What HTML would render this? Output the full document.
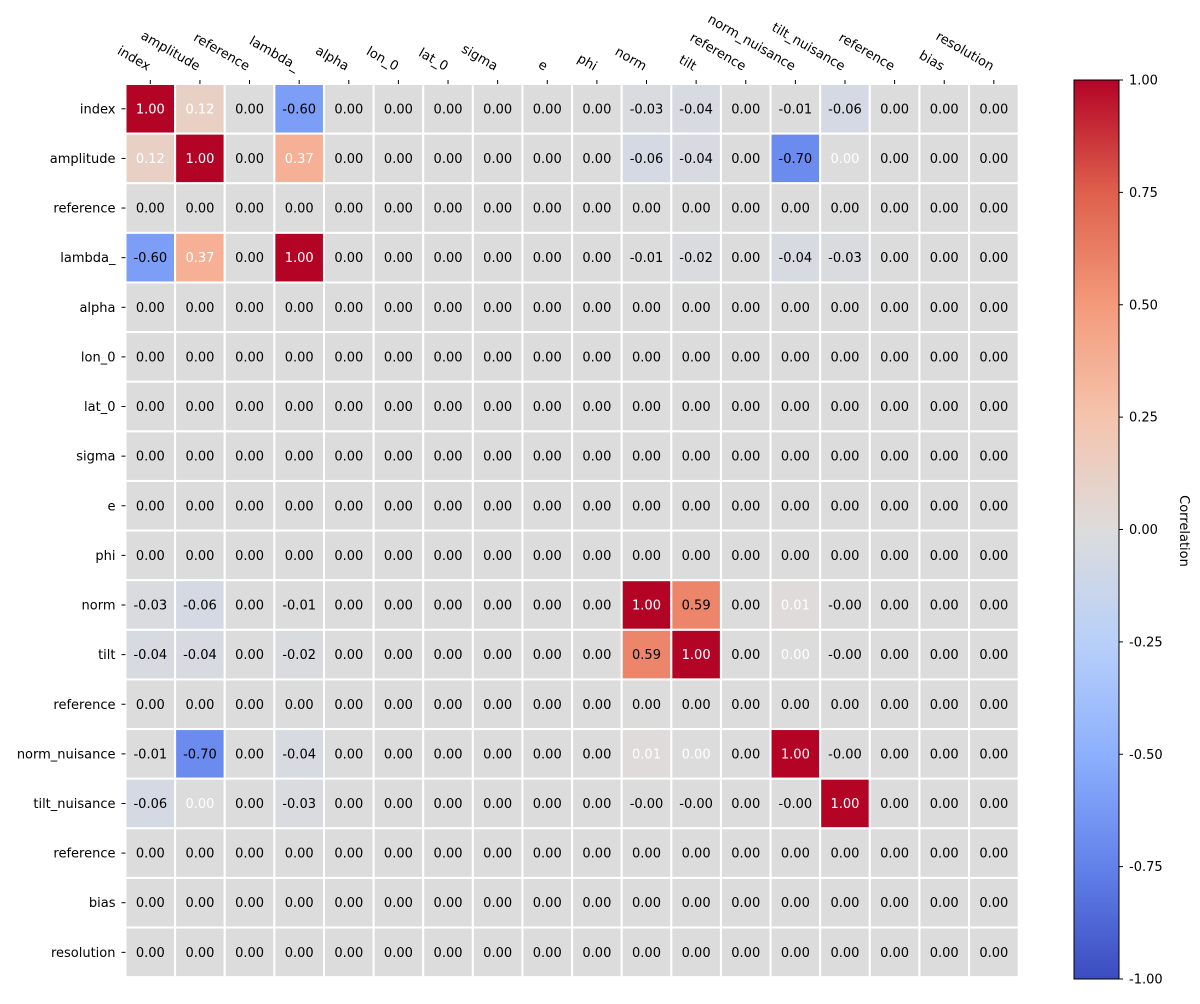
<!DOCTYPE html>
<html><head><meta charset="utf-8"><style>
body{margin:0;background:#fff;font-family:"Liberation Sans","DejaVu Sans",sans-serif;}
svg text{font-family:"DejaVu Sans","Liberation Sans",sans-serif;font-size:13px;}
</style></head><body>
<svg id="chart" width="1200" height="999" xmlns="http://www.w3.org/2000/svg">
<defs><linearGradient id="cbgrad" x1="0" y1="1" x2="0" y2="0"></linearGradient></defs>
<g id="cells"></g><g id="labels"></g><g id="cbar"></g>
</svg>
<script>
const params = ["index","amplitude","reference","lambda_","alpha","lon_0","lat_0","sigma","e","phi","norm","tilt","reference","norm_nuisance","tilt_nuisance","reference","bias","resolution"];
const nonzero = [
 [0,0,1.00],[0,1,0.12],[0,3,-0.60],[0,10,-0.03],[0,11,-0.04],[0,13,-0.01],[0,14,-0.06],
 [1,1,1.00],[1,3,0.37],[1,10,-0.06],[1,11,-0.04],[1,13,-0.70],[1,14,0.001],
 [3,3,1.00],[3,10,-0.01],[3,11,-0.02],[3,13,-0.04],[3,14,-0.03],
 [10,10,1.00],[10,11,0.59],[10,13,0.01],[10,14,-0.001],
 [11,11,1.00],[11,13,0.001],[11,14,-0.001],
 [13,13,1.00],[13,14,-0.001],
 [14,14,1.00]
];
const whiteText = [[0,0],[0,1],[1,0],[1,1],[1,3],[3,1],[3,3],[1,14],[14,1],[10,10],[11,11],[13,13],[14,14],[10,13],[13,10],[11,13],[13,11]];
const cbTicks = [1.00,0.75,0.50,0.25,0.00,-0.25,-0.50,-0.75,-1.00];

const NS="http://www.w3.org/2000/svg";
const n=params.length;
const M=[];for(let i=0;i<n;i++){M.push(new Array(n).fill(0));}
nonzero.forEach(([r,c,v])=>{M[r][c]=v;M[c][r]=v;});
const x0=125.5,y0=84,cs=49.62;
const cmapPts=[[59,76,192],[98,130,234],[141,176,254],[184,208,249],[221,220,220],[245,196,173],[244,154,123],[222,96,76],[180,4,38]];
function cmap(v){let t=(v+1)/2;t=Math.max(0,Math.min(1,t))*8;const i=Math.min(7,Math.floor(t)),f=t-i;const a=cmapPts[i],b=cmapPts[i+1];
return `rgb(${a.map((x,k)=>Math.round(x+(b[k]-x)*f)).join(',')})`;}
function mk(tag,attrs,parent){const e=document.createElementNS(NS,tag);for(const k in attrs)e.setAttribute(k,attrs[k]);parent.appendChild(e);return e;}
const cells=document.getElementById('cells'),labels=document.getElementById('labels'),cbar=document.getElementById('cbar');
const isWhite=(r,c)=>whiteText.some(p=>p[0]===r&&p[1]===c);
for(let r=0;r<n;r++)for(let c=0;c<n;c++){
 const v=M[r][c];
 const rect=mk('rect',{x:x0+c*cs,y:y0+r*cs,width:cs,height:cs,fill:cmap(v),stroke:'#fff','stroke-width':2},cells);
 
 
 const t=mk('text',{x:x0+(c+0.5)*cs,y:y0+(r+0.5)*cs+4.5,'text-anchor':'middle',fill:isWhite(r,c)?'#fff':'#000'},cells);
 t.textContent=(Math.abs(v)<0.005&&v<0?'-0.00':v.toFixed(2));
 
 
}
params.forEach((p,i)=>{
 const cy=y0+(i+0.5)*cs;
 mk('line',{x1:x0-4,x2:x0,y1:cy,y2:cy,stroke:'#000'},labels);
 const t=mk('text',{x:x0-10,y:cy+4.5,'text-anchor':'end'},labels);t.textContent=p;
 
 
 const cx=x0+(i+0.5)*cs;
 mk('line',{x1:cx,x2:cx,y1:y0-4,y2:y0,stroke:'#000'},labels);
 const ax=cx-3,ay=y0-13;
 const u=mk('text',{x:ax,y:ay,'text-anchor':'end',transform:`rotate(30 ${ax} ${ay})`},labels);u.textContent=p;
 
 
});
const cbX=1074,cbW=45,cbT=80,cbB=979;
const g=document.getElementById('cbgrad');
cmapPts.forEach((c,i)=>mk('stop',{offset:(i/8),'stop-color':`rgb(${c.join(',')})`},g));
const cb=mk('rect',{x:cbX,y:cbT,width:cbW,height:cbB-cbT,fill:'url(#cbgrad)',stroke:'#000','stroke-width':1},cbar);


cbTicks.forEach(v=>{const y=cbT+(1-v)/2*(cbB-cbT);
 mk('line',{x1:cbX+cbW,x2:cbX+cbW+4,y1:y,y2:y,stroke:'#000'},cbar);
 const t=mk('text',{x:cbX+cbW+10,y:y+4.5},cbar);t.textContent=v.toFixed(2);
 
 });
const lab=mk('text',{x:1180,y:531,'text-anchor':'middle',transform:'rotate(90 1180 531)'},cbar);lab.textContent='Correlation';


</script>
</body></html>
